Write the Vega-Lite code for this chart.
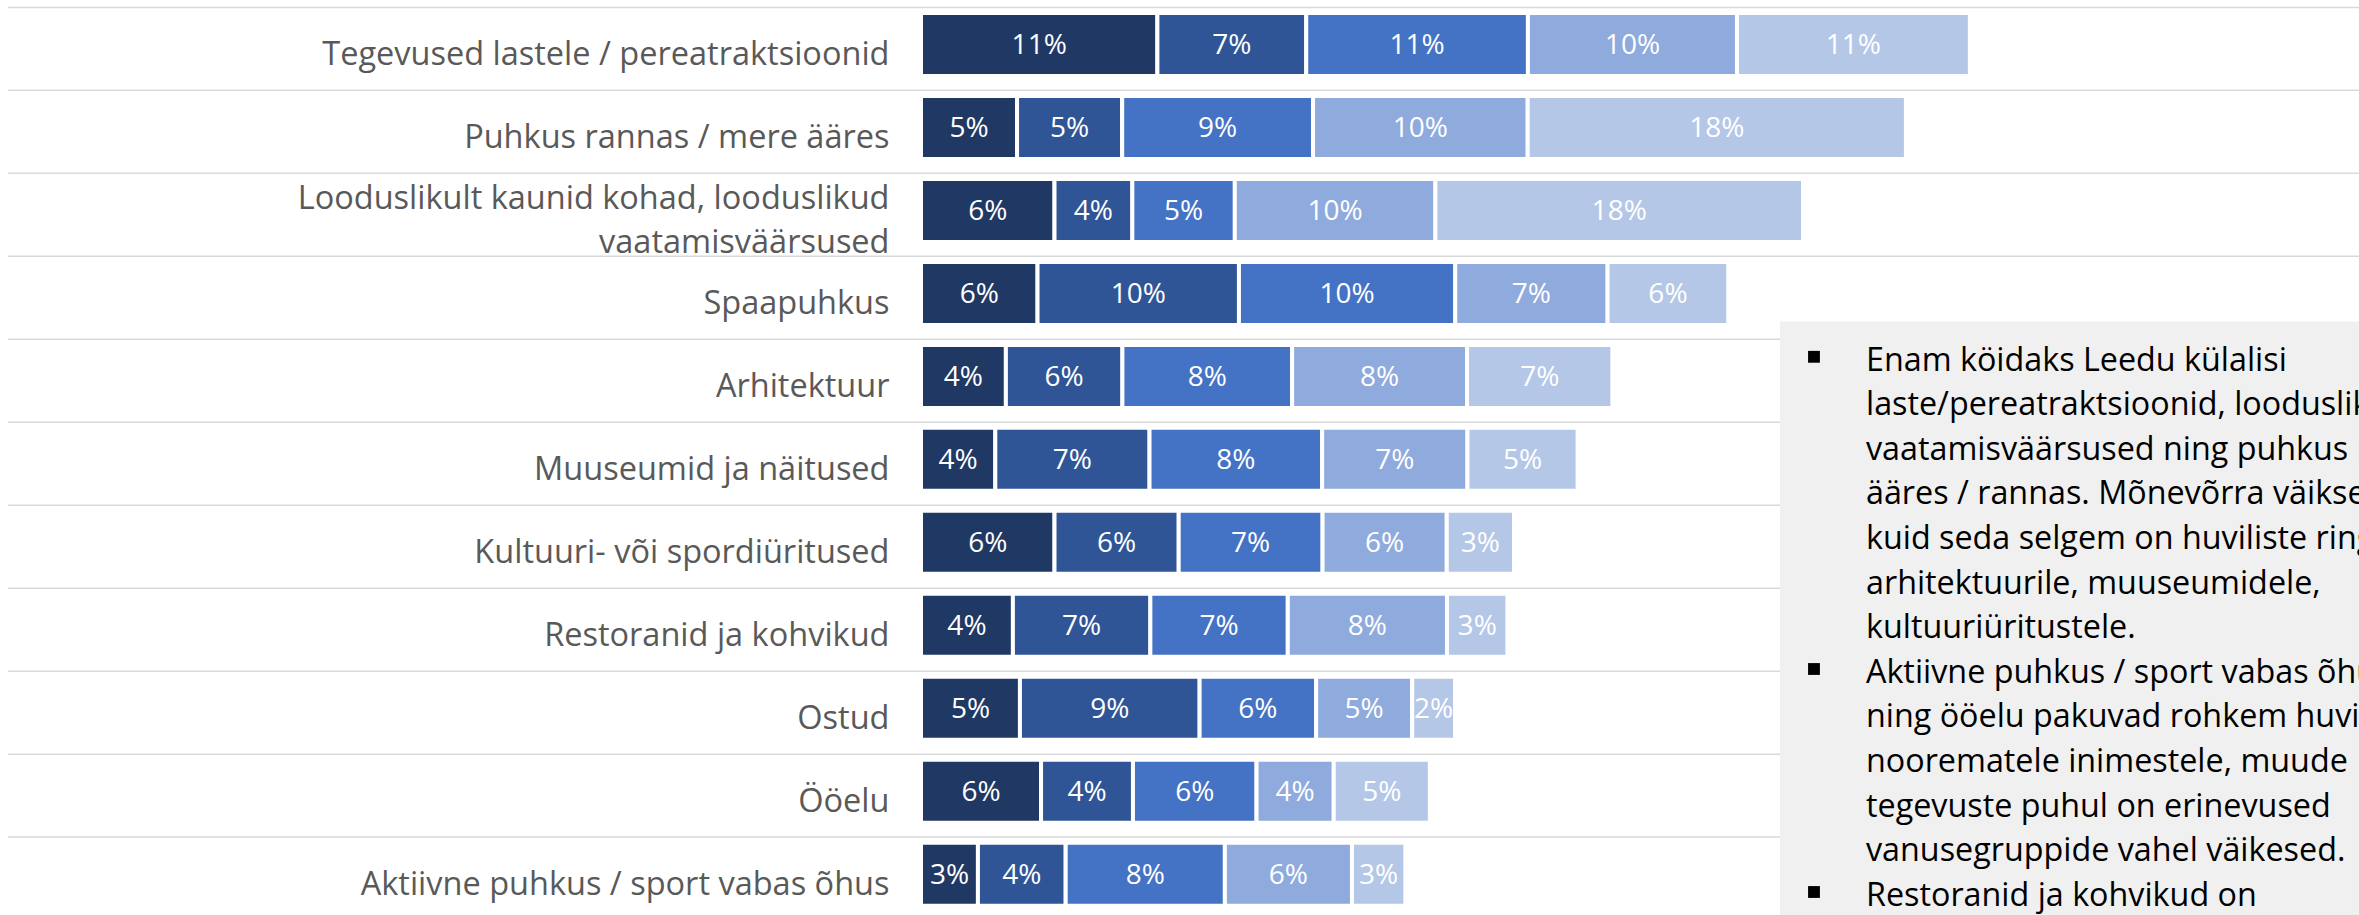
{
  "$schema": "https://vega.github.io/schema/vega-lite/v6.json",
  "width": 2351,
  "height": 915,
  "autosize": {"type": "none"},
  "padding": {"left": 8, "top": 0, "right": 0, "bottom": 0},
  "background": "#ffffff",
  "config": {"view": {"stroke": null}, "font": "Open Sans"},
  "datasets": {
    "tegevused": [
      {"kat": "Tegevused lastele / pereatraktsioonid", "grupp": "Rühm 1", "gi": 1, "v": 0.1142},
      {"kat": "Tegevused lastele / pereatraktsioonid", "grupp": "Rühm 2", "gi": 2, "v": 0.0719},
      {"kat": "Tegevused lastele / pereatraktsioonid", "grupp": "Rühm 3", "gi": 3, "v": 0.1071},
      {"kat": "Tegevused lastele / pereatraktsioonid", "grupp": "Rühm 4", "gi": 4, "v": 0.1010},
      {"kat": "Tegevused lastele / pereatraktsioonid", "grupp": "Rühm 5", "gi": 5, "v": 0.1125},
      {"kat": "Puhkus rannas / mere ääres", "grupp": "Rühm 1", "gi": 1, "v": 0.0464},
      {"kat": "Puhkus rannas / mere ääres", "grupp": "Rühm 2", "gi": 2, "v": 0.0508},
      {"kat": "Puhkus rannas / mere ääres", "grupp": "Rühm 3", "gi": 3, "v": 0.0922},
      {"kat": "Puhkus rannas / mere ääres", "grupp": "Rühm 4", "gi": 4, "v": 0.1037},
      {"kat": "Puhkus rannas / mere ääres", "grupp": "Rühm 5", "gi": 5, "v": 0.1827},
      {"kat": "Looduslikult kaunid kohad, looduslikud vaatamisväärsused", "grupp": "Rühm 1", "gi": 1, "v": 0.0645},
      {"kat": "Looduslikult kaunid kohad, looduslikud vaatamisväärsused", "grupp": "Rühm 2", "gi": 2, "v": 0.0376},
      {"kat": "Looduslikult kaunid kohad, looduslikud vaatamisväärsused", "grupp": "Rühm 3", "gi": 3, "v": 0.0495},
      {"kat": "Looduslikult kaunid kohad, looduslikud vaatamisväärsused", "grupp": "Rühm 4", "gi": 4, "v": 0.0969},
      {"kat": "Looduslikult kaunid kohad, looduslikud vaatamisväärsused", "grupp": "Rühm 5", "gi": 5, "v": 0.1776},
      {"kat": "Spaapuhkus", "grupp": "Rühm 1", "gi": 1, "v": 0.0563},
      {"kat": "Spaapuhkus", "grupp": "Rühm 2", "gi": 2, "v": 0.0973},
      {"kat": "Spaapuhkus", "grupp": "Rühm 3", "gi": 3, "v": 0.1045},
      {"kat": "Spaapuhkus", "grupp": "Rühm 4", "gi": 4, "v": 0.0736},
      {"kat": "Spaapuhkus", "grupp": "Rühm 5", "gi": 5, "v": 0.0583},
      {"kat": "Arhitektuur", "grupp": "Rühm 1", "gi": 1, "v": 0.0410},
      {"kat": "Arhitektuur", "grupp": "Rühm 2", "gi": 2, "v": 0.0563},
      {"kat": "Arhitektuur", "grupp": "Rühm 3", "gi": 3, "v": 0.0820},
      {"kat": "Arhitektuur", "grupp": "Rühm 4", "gi": 4, "v": 0.0845},
      {"kat": "Arhitektuur", "grupp": "Rühm 5", "gi": 5, "v": 0.0702},
      {"kat": "Muuseumid ja näitused", "grupp": "Rühm 1", "gi": 1, "v": 0.0359},
      {"kat": "Muuseumid ja näitused", "grupp": "Rühm 2", "gi": 2, "v": 0.0745},
      {"kat": "Muuseumid ja näitused", "grupp": "Rühm 3", "gi": 3, "v": 0.0834},
      {"kat": "Muuseumid ja näitused", "grupp": "Rühm 4", "gi": 4, "v": 0.0702},
      {"kat": "Muuseumid ja näitused", "grupp": "Rühm 5", "gi": 5, "v": 0.0532},
      {"kat": "Kultuuri- või spordiüritused", "grupp": "Rühm 1", "gi": 1, "v": 0.0645},
      {"kat": "Kultuuri- või spordiüritused", "grupp": "Rühm 2", "gi": 2, "v": 0.0600},
      {"kat": "Kultuuri- või spordiüritused", "grupp": "Rühm 3", "gi": 3, "v": 0.0695},
      {"kat": "Kultuuri- või spordiüritused", "grupp": "Rühm 4", "gi": 4, "v": 0.0600},
      {"kat": "Kultuuri- või spordiüritused", "grupp": "Rühm 5", "gi": 5, "v": 0.0325},
      {"kat": "Restoranid ja kohvikud", "grupp": "Rühm 1", "gi": 1, "v": 0.0444},
      {"kat": "Restoranid ja kohvikud", "grupp": "Rühm 2", "gi": 2, "v": 0.0664},
      {"kat": "Restoranid ja kohvikud", "grupp": "Rühm 3", "gi": 3, "v": 0.0664},
      {"kat": "Restoranid ja kohvikud", "grupp": "Rühm 4", "gi": 4, "v": 0.0769},
      {"kat": "Restoranid ja kohvikud", "grupp": "Rühm 5", "gi": 5, "v": 0.0292},
      {"kat": "Ostud", "grupp": "Rühm 1", "gi": 1, "v": 0.0478},
      {"kat": "Ostud", "grupp": "Rühm 2", "gi": 2, "v": 0.0868},
      {"kat": "Ostud", "grupp": "Rühm 3", "gi": 3, "v": 0.0563},
      {"kat": "Ostud", "grupp": "Rühm 4", "gi": 4, "v": 0.0464},
      {"kat": "Ostud", "grupp": "Rühm 5", "gi": 5, "v": 0.0207},
      {"kat": "Ööelu", "grupp": "Rühm 1", "gi": 1, "v": 0.0580},
      {"kat": "Ööelu", "grupp": "Rühm 2", "gi": 2, "v": 0.0444},
      {"kat": "Ööelu", "grupp": "Rühm 3", "gi": 3, "v": 0.0597},
      {"kat": "Ööelu", "grupp": "Rühm 4", "gi": 4, "v": 0.0373},
      {"kat": "Ööelu", "grupp": "Rühm 5", "gi": 5, "v": 0.0464},
      {"kat": "Aktiivne puhkus / sport vabas õhus", "grupp": "Rühm 1", "gi": 1, "v": 0.0275},
      {"kat": "Aktiivne puhkus / sport vabas õhus", "grupp": "Rühm 2", "gi": 2, "v": 0.0424},
      {"kat": "Aktiivne puhkus / sport vabas õhus", "grupp": "Rühm 3", "gi": 3, "v": 0.0769},
      {"kat": "Aktiivne puhkus / sport vabas õhus", "grupp": "Rühm 4", "gi": 4, "v": 0.0614},
      {"kat": "Aktiivne puhkus / sport vabas õhus", "grupp": "Rühm 5", "gi": 5, "v": 0.0258}
    ],
    "markus": [
      {"rida": 1, "tapp": true, "tekst": "Enam köidaks Leedu külalisi"},
      {"rida": 2, "tapp": false, "tekst": "laste/pereatraktsioonid, looduslikud"},
      {"rida": 3, "tapp": false, "tekst": "vaatamisväärsused ning puhkus mere"},
      {"rida": 4, "tapp": false, "tekst": "ääres / rannas. Mõnevõrra väiksem,"},
      {"rida": 5, "tapp": false, "tekst": "kuid seda selgem on huviliste ring"},
      {"rida": 6, "tapp": false, "tekst": "arhitektuurile, muuseumidele,"},
      {"rida": 7, "tapp": false, "tekst": "kultuuriüritustele."},
      {"rida": 8, "tapp": true, "tekst": "Aktiivne puhkus / sport vabas õhus"},
      {"rida": 9, "tapp": false, "tekst": "ning ööelu pakuvad rohkem huvi"},
      {"rida": 10, "tapp": false, "tekst": "noorematele inimestele, muude"},
      {"rida": 11, "tapp": false, "tekst": "tegevuste puhul on erinevused"},
      {"rida": 12, "tapp": false, "tekst": "vanusegruppide vahel väikesed."},
      {"rida": 13, "tapp": true, "tekst": "Restoranid ja kohvikud on"}
    ],
    "kast": [{"nimi": "kast"}]
  },
  "layer": [
    {
      "data": {"name": "tegevused"},
      "encoding": {
        "y": {
          "field": "kat", "type": "nominal", "sort": null,
          "scale": {
            "domain": ["Tegevused lastele / pereatraktsioonid", "Puhkus rannas / mere ääres", "Looduslikult kaunid kohad, looduslikud vaatamisväärsused", "Spaapuhkus", "Arhitektuur", "Muuseumid ja näitused", "Kultuuri- või spordiüritused", "Restoranid ja kohvikud", "Ostud", "Ööelu", "Aktiivne puhkus / sport vabas õhus"],
            "range": [13, 905.7], "paddingInner": 0.2407, "paddingOuter": 0
          },
          "axis": {
            "orient": "left", "offset": -913, "title": null, "domain": false, "ticks": false, "tickSize": 0, "grid": false,
            "labelPadding": 32, "labelFont": "Open Sans", "labelFontSize": 32.5, "labelColor": "#595959",
            "labelLimit": 1200, "labelLineHeight": 44, "labelOverlap": false,
            "labelOffset": {"condition": {"test": "datum.value == 'Looduslikult kaunid kohad, looduslikud vaatamisväärsused'", "value": -11.6}, "value": 10.4},
            "labelExpr": "datum.label == 'Looduslikult kaunid kohad, looduslikud vaatamisväärsused' ? ['Looduslikult kaunid kohad, looduslikud', 'vaatamisväärsused'] : datum.label"
          }
        }
      },
      "layer": [
        {
          "transform": [{"filter": "datum.gi == 1"}],
          "mark": {"type": "rule", "color": "#d9d9d9", "strokeWidth": 1.5, "yOffset": -5.6},
          "encoding": {
            "y": {
              "field": "kat", "type": "nominal", "sort": null, "bandPosition": 0,
              "axis": {
                "orient": "left", "offset": -913, "title": null, "domain": false, "ticks": false, "tickSize": 0, "grid": false,
                "labelPadding": 32, "labelFont": "Open Sans", "labelFontSize": 32.5, "labelColor": "#595959",
                "labelLimit": 1200, "labelLineHeight": 44, "labelOverlap": false,
                "labelOffset": {"condition": {"test": "datum.value == 'Looduslikult kaunid kohad, looduslikud vaatamisväärsused'", "value": -11.6}, "value": 10.4},
                "labelExpr": "datum.label == 'Looduslikult kaunid kohad, looduslikud vaatamisväärsused' ? ['Looduslikult kaunid kohad, looduslikud', 'vaatamisväärsused'] : datum.label"
              }
            }
          }
        },
        {
          "mark": {"type": "bar", "stroke": "#ffffff", "strokeWidth": 4},
          "encoding": {
            "x": {"field": "v", "type": "quantitative", "stack": "zero", "scale": {"domain": [0, 0.6947], "range": [913, 2351], "nice": false, "zero": false}, "axis": null},
            "color": {"field": "grupp", "type": "nominal", "scale": {"domain": ["Rühm 1", "Rühm 2", "Rühm 3", "Rühm 4", "Rühm 5"], "range": ["#203864", "#2f5597", "#4472c4", "#8faadc", "#b4c7e7"]}, "legend": null},
            "order": {"field": "gi", "type": "quantitative"}
          }
        },
        {
          "mark": {"type": "text", "color": "#ffffff", "font": "Open Sans", "fontSize": 28, "align": "center", "baseline": "middle", "dy": 2},
          "encoding": {
            "x": {"field": "v", "type": "quantitative", "stack": "zero", "bandPosition": 0.5, "scale": {"domain": [0, 0.6947], "range": [913, 2351], "nice": false, "zero": false}, "axis": null},
            "detail": {"field": "grupp", "type": "nominal"},
            "order": {"field": "gi", "type": "quantitative"},
            "text": {"field": "v", "type": "quantitative", "format": ".0%"}
          }
        }
      ]
    },
    {
      "layer": [
        {
          "data": {"name": "kast"},
          "mark": {"type": "rect", "color": "#f0f0f0"},
          "encoding": {
            "x": {"datum": 0, "type": "quantitative", "scale": {"domain": [0, 1], "range": [1772, 2351], "nice": false, "zero": false}, "axis": null},
            "x2": {"datum": 1},
            "y": {"datum": -0.1, "type": "quantitative", "scale": {"domain": [1, 13], "range": [370.5, 905.7], "nice": false, "zero": false}, "axis": null},
            "y2": {"datum": 14}
          }
        },
        {
          "data": {"name": "markus"},
          "transform": [{"filter": "datum.tapp"}],
          "mark": {"type": "point", "shape": "square", "filled": true, "color": "#000000", "opacity": 1, "size": 140, "yOffset": -13.7},
          "encoding": {
            "x": {"datum": 0.0587, "type": "quantitative", "axis": null},
            "y": {"field": "rida", "type": "quantitative", "axis": null}
          }
        },
        {
          "data": {"name": "markus"},
          "mark": {"type": "text", "font": "Open Sans", "fontSize": 32.3, "color": "#000000", "align": "left", "baseline": "alphabetic"},
          "encoding": {
            "x": {"datum": 0.1485, "type": "quantitative", "axis": null},
            "y": {"field": "rida", "type": "quantitative", "axis": null},
            "text": {"field": "tekst", "type": "nominal"}
          }
        }
      ]
    }
  ],
  "resolve": {"scale": {"x": "independent", "y": "independent"}}
}
